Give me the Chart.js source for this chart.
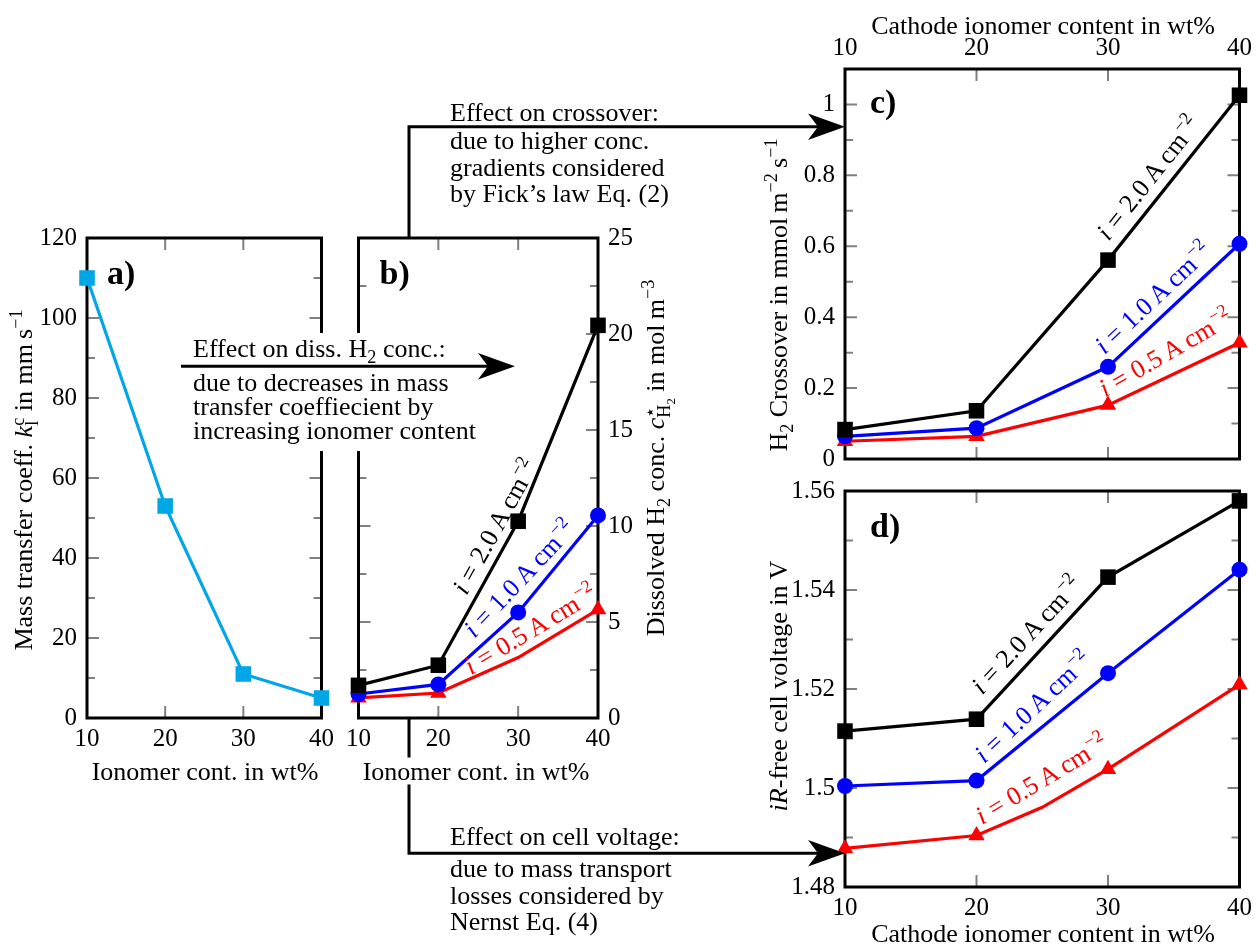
<!DOCTYPE html>
<html>
<head>
<meta charset="utf-8">
<script src="https://cdn.jsdelivr.net/npm/chart.js@4.4.1/dist/chart.umd.min.js"></script>
<style>
  body { margin: 0; background: #fff; }
  #fig { position: relative; width: 1258px; height: 944px; overflow: hidden;
         font-family: "Liberation Serif", "Times New Roman", serif; color: #000; }
  canvas { position: absolute; }
  .t { position: absolute; white-space: nowrap; font-size: 26px; line-height: 27px; }
  .ctr { transform: translate(-50%, -50%); }
  .rot { transform: translate(-50%, -50%) rotate(-90deg); }
  sub, sup { font-size: 0.7em; line-height: 0; }
  .ss { display: inline-flex; flex-direction: column; font-size: 0.7em; line-height: 0.8em; vertical-align: 0.45em; }
  #dissBox { position: absolute; left: 178px; top: 333px; width: 342px; height: 118px; background: #fff; }
  svg { position: absolute; left: 0; top: 0; }
</style>
</head>
<body>
<div id="fig">
  <canvas id="ca" width="340" height="560" style="left:0;top:200px"></canvas>
  <canvas id="cb" width="330" height="560" style="left:340px;top:200px"></canvas>
  <canvas id="cc" width="498" height="484" style="left:760px;top:0"></canvas>
  <canvas id="cd" width="498" height="478" style="left:760px;top:466px"></canvas>

  <div id="dissBox"></div>

  <svg width="1258" height="944">
    <g stroke="#000" stroke-width="3" fill="none">
      <path d="M409,238 V126.7 H820"/>
      <path d="M181,366.3 H490"/>
      <path d="M409,718 V853.3 H820"/>
    </g>
    <g fill="#000">
      <polygon points="845,126.7 808,113.4 818,126.7 808,140"/>
      <polygon points="515,366.3 478,353 488,366.3 478,379.6"/>
      <polygon points="845,853.3 808,840 818,853.3 808,866.6"/>
    </g>
  </svg>

  <!-- annotations -->
  <div class="t" style="left:450px;top:99px">Effect on crossover:</div>
  <div class="t" style="left:450px;top:128px;line-height:26.7px">due to higher conc.<br>gradients considered<br>by Fick’s law Eq. (2)</div>
  <div class="t" style="left:193px;top:335px">Effect on diss. H<sub>2</sub> conc.:</div>
  <div class="t" style="left:193px;top:371px;line-height:24px">due to decreases in mass<br>transfer coeffiecient by<br>increasing ionomer content</div>
  <div class="t" style="left:450px;top:823px">Effect on cell voltage:</div>
  <div class="t" style="left:450px;top:856px;line-height:26.7px">due to mass transport<br>losses considered by<br>Nernst Eq. (4)</div>

  <!-- axis titles -->
  <div class="t ctr" style="left:205px;top:771px">Ionomer cont. in wt%</div>
  <div class="t ctr" style="left:476px;top:771px;background:#fff;padding:0 4px">Ionomer cont. in wt%</div>
  <div class="t ctr" style="left:1043px;top:25px">Cathode ionomer content in wt%</div>
  <div class="t ctr" style="left:1043px;top:933px">Cathode ionomer content in wt%</div>
  <div class="t rot" style="left:25px;top:480px">Mass transfer coeff. <i>k</i><span class="ss"><span>c</span><span>l</span></span> in mm&#8201;s<sup>−1</sup></div>
  <div class="t rot" style="left:657px;top:458px">Dissolved H<sub>2</sub> conc. <i>c</i><span class="ss"><span>⋆</span><span>H<sub>2</sub></span></span> in mol&#8201;m<sup>−3</sup></div>
  <div class="t rot" style="left:778px;top:295px">H<sub>2</sub> Crossover in mmol&#8201;m<sup>−2</sup>&#8201;s<sup>−1</sup></div>
  <div class="t rot" style="left:778px;top:686px"><i>iR</i>-free cell voltage in V</div>
</div>

<script>
// ionomer content (wt%) on every x axis
const xTicks = [10, 20, 30, 40];

// a) mass transfer coefficient in mm/s
const massX = [10, 20, 30, 40];
const massTransfer = [110, 53, 11, 5];
const aTicks = [0, 20, 40, 60, 80, 100, 120];
const aMinor = [10, 30, 50, 70, 90, 110];

// b) dissolved H2 concentration in mol/m3
const concX = [10, 20, 30, 40];
const conc20 = [1.7, 2.75, 10.25, 20.45];
const conc10 = [1.25, 1.75, 5.5, 10.55];
const conc05 = [1.05, 1.3, 3.15, 5.65];
const conc05Marker = [true, true, false, true];
const bTicks = [0, 5, 10, 15, 20, 25];
const bMinor = [2.5, 7.5, 12.5, 17.5, 22.5];

// c) H2 crossover in mmol m-2 s-1
const crossX = [10, 20, 30, 40];
const cross20 = [0.083, 0.136, 0.561, 1.026];
const cross10 = [0.064, 0.087, 0.26, 0.607];
const cross05 = [0.05, 0.064, 0.152, 0.328];
const cTicks = [0, 0.2, 0.4, 0.6, 0.8, 1];
const cMinor = [0.1, 0.3, 0.5, 0.7, 0.9];

// d) iR-free cell voltage in V
const voltX = [10, 20, 30, 40];
const volt20 = [1.5115, 1.5139, 1.5426, 1.558];
const volt10 = [1.5004, 1.5015, 1.5232, 1.5441];
const volt05X = [10, 20, 25, 30, 40];
const volt05 = [1.4878, 1.4904, 1.4961, 1.5038, 1.5209];
const volt05Marker = [true, true, false, true, true];
const dTicks = [1.48, 1.5, 1.52, 1.54, 1.56];
const dMinor = [1.49, 1.51, 1.53, 1.55];

const FONT = '"Liberation Serif", "Times New Roman", serif';
const tickFont = { family: 'Liberation Serif', size: 25 };
const LIGHTBLUE = '#00a6e6';

// "i = 2.0 A cm^-2" drawn along a line
function drawMath(ctx, val, y) {
  const base = '26px ' + FONT;
  const parts = [
    { s: 'i', f: 'italic ' + base, gap: 7 },
    { s: '=', f: base, gap: 7 },
    { s: val, f: base, gap: 5 },
    { s: 'A', f: base, gap: 5 },
    { s: 'cm', f: base, gap: 1 },
    { s: '\u22122', f: '18px ' + FONT, dy: -11, gap: 0 }
  ];
  let x = 0;
  parts.forEach(p => {
    ctx.font = p.f;
    ctx.fillText(p.s, x, y + (p.dy || 0));
    x += ctx.measureText(p.s).width + p.gap;
  });
}

function lineLabels(items) {
  return {
    id: 'lineLabels',
    afterDatasetsDraw(chart) {
      const ctx = chart.ctx;
      items.forEach(it => {
        const pts = chart.getDatasetMeta(it.ds).data;
        const p0 = pts[it.i0], p1 = pts[it.i1];
        const ang = it.rot != null ? -it.rot * Math.PI / 180 : Math.atan2(p1.y - p0.y, p1.x - p0.x);
        ctx.save();
        ctx.translate(p0.x + (p1.x - p0.x) * it.t, p0.y + (p1.y - p0.y) * it.t);
        ctx.rotate(ang);
        ctx.fillStyle = it.color;
        ctx.textBaseline = 'alphabetic';
        drawMath(ctx, it.val, -it.off);
        ctx.restore();
      });
    }
  };
}

// box round the plot, grey ticks pointing inward, panel letter
function frame(o) {
  return {
    id: 'frame',
    beforeDatasetsDraw(chart) {
      const { ctx, chartArea: a, scales } = chart;
      ctx.save();
      ctx.strokeStyle = '#808080';
      ctx.lineWidth = 2;
      ctx.beginPath();
      xTicks.forEach(v => {
        const px = scales.x.getPixelForValue(v);
        ctx.moveTo(px, a.top); ctx.lineTo(px, a.top + 12);
        ctx.moveTo(px, a.bottom); ctx.lineTo(px, a.bottom - 12);
      });
      const yTick = (v, len) => {
        const py = scales.y.getPixelForValue(v);
        ctx.moveTo(a.left, py); ctx.lineTo(a.left + len, py);
        ctx.moveTo(a.right, py); ctx.lineTo(a.right - len, py);
      };
      o.yMajor.forEach(v => yTick(v, 12));
      o.yMinor.forEach(v => yTick(v, 8));
      ctx.stroke();
      ctx.strokeStyle = '#000';
      ctx.lineWidth = 3;
      ctx.strokeRect(a.left, a.top, a.width, a.height);
      ctx.restore();
    },
    afterDatasetsDraw(chart) {
      const { ctx, chartArea: a } = chart;
      ctx.save();
      ctx.font = 'bold 34px ' + FONT;
      ctx.fillStyle = '#000';
      ctx.fillText(o.label, a.left + o.lx, a.top + o.ly);
      ctx.restore();
    }
  };
}

function series(xs, ys, color, marker, r, show) {
  return {
    data: xs.map((x, i) => ({ x: x, y: ys[i] })),
    borderColor: color,
    backgroundColor: color,
    pointBackgroundColor: color,
    pointBorderColor: color,
    pointBorderWidth: 0,
    pointStyle: marker,
    pointRadius: show ? show.map(s => s ? r : 0) : r,
    borderWidth: 3.2,
    tension: 0,
    fill: false,
    clip: false
  };
}

function panel(id, cfg) {
  return new Chart(document.getElementById(id), {
    type: 'line',
    data: { datasets: cfg.datasets },
    options: {
      responsive: false,
      animation: false,
      events: [],
      layout: { padding: cfg.pad },
      plugins: { legend: { display: false }, tooltip: { enabled: false } },
      scales: {
        x: {
          type: 'linear', position: cfg.xPos, min: 10, max: 40,
          afterBuildTicks: s => { s.ticks = xTicks.map(v => ({ value: v })); },
          afterFit: s => { s.height = cfg.xH; },
          ticks: { font: tickFont, color: '#000', padding: 6, maxRotation: 0, autoSkip: false },
          grid: { display: false, drawTicks: false },
          border: { display: false }
        },
        y: {
          type: 'linear', position: cfg.yPos, min: cfg.yMin, max: cfg.yMax,
          afterBuildTicks: s => { s.ticks = cfg.yTicks.map(v => ({ value: v })); },
          afterFit: s => { s.width = cfg.yW; },
          ticks: { font: tickFont, color: '#000', padding: 10, autoSkip: false,
                   callback: v => String(+v.toFixed(2)) },
          grid: { display: false, drawTicks: false },
          border: { display: false }
        }
      }
    },
    plugins: [frame(Object.assign({ yMajor: cfg.yTicks }, cfg.frame)), lineLabels(cfg.labels || [])]
  });
}

panel('ca', {
  datasets: [series(massX, massTransfer, LIGHTBLUE, 'rect', 11)],
  pad: { top: 38, right: 13, bottom: 0, left: 0 },
  xPos: 'bottom', xH: 42, yPos: 'left', yW: 87,
  yMin: 0, yMax: 120, yTicks: aTicks,
  frame: { yMinor: aMinor, label: 'a)', lx: 20, ly: 46 }
});

panel('cb', {
  datasets: [
    series(concX, conc20, '#000000', 'rect', 11),
    series(concX, conc10, '#0000ff', 'circle', 8),
    series(concX, conc05, '#ff0000', 'triangle', 9.5, conc05Marker)
  ],
  pad: { top: 38, right: 0, bottom: 0, left: 18 },
  xPos: 'bottom', xH: 42, yPos: 'right', yW: 72,
  yMin: 0, yMax: 25, yTicks: bTicks,
  frame: { yMinor: bMinor, label: 'b)', lx: 21, ly: 46 },
  labels: [
    { ds: 0, i0: 1, i1: 2, t: 0.45, off: 9, val: '2.0', color: '#000000' },
    { ds: 1, i0: 1, i1: 3, t: 0.25, off: 5, val: '1.0', color: '#0000ff' },
    { ds: 2, i0: 1, i1: 2, t: 0.43, off: 3, val: '0.5', color: '#ff0000', rot: 31 }
  ]
});

panel('cc', {
  datasets: [
    series(crossX, cross20, '#000000', 'rect', 11),
    series(crossX, cross10, '#0000ff', 'circle', 8),
    series(crossX, cross05, '#ff0000', 'triangle', 9.5)
  ],
  pad: { top: 0, right: 13, bottom: 16, left: 0 },
  xPos: 'top', xH: 69, yPos: 'left', yW: 85,
  yMin: 0, yMax: 1.1, yTicks: cTicks,
  frame: { yMinor: cMinor, label: 'c)', lx: 25, ly: 44 },
  labels: [
    { ds: 0, i0: 2, i1: 3, t: 0.07, off: 11, val: '2.0', color: '#000000' },
    { ds: 1, i0: 2, i1: 3, t: 0.03, off: 11, val: '1.0', color: '#0000ff' },
    { ds: 2, i0: 2, i1: 3, t: 0.01, off: 8, val: '0.5', color: '#ff0000', rot: 30 }
  ]
});

panel('cd', {
  datasets: [
    series(voltX, volt20, '#000000', 'rect', 11),
    series(voltX, volt10, '#0000ff', 'circle', 8),
    series(volt05X, volt05, '#ff0000', 'triangle', 9.5, volt05Marker)
  ],
  pad: { top: 21, right: 13, bottom: 0, left: 0 },
  xPos: 'bottom', xH: 57, yPos: 'left', yW: 85,
  yMin: 1.48, yMax: 1.56, yTicks: dTicks,
  frame: { yMinor: dMinor, label: 'd)', lx: 25, ly: 46 },
  labels: [
    { ds: 0, i0: 1, i1: 2, t: 0.11, off: 12, val: '2.0', color: '#000000' },
    { ds: 1, i0: 1, i1: 2, t: 0.1, off: 8, val: '1.0', color: '#0000ff', rot: 43 },
    { ds: 2, i0: 1, i1: 3, t: 0.07, off: 7, val: '0.5', color: '#ff0000', rot: 31 }
  ]
});
</script>
</body>
</html>
